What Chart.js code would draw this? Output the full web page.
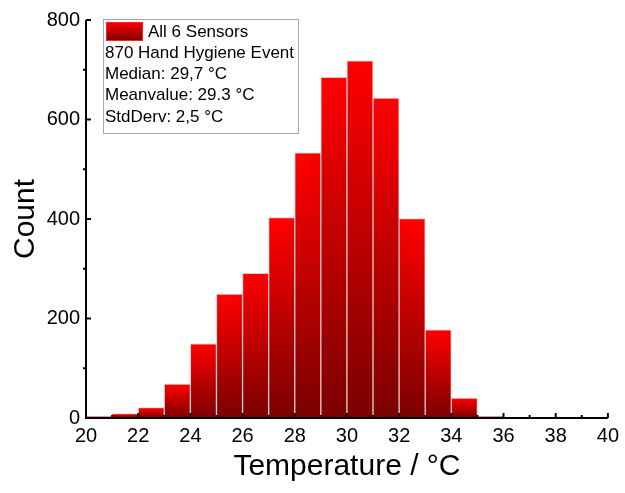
<!DOCTYPE html>
<html>
<head>
<meta charset="utf-8">
<script src="https://cdn.jsdelivr.net/npm/chart.js@4.4.0/dist/chart.umd.min.js"></script>
<style>
  html, body { margin: 0; padding: 0; background: #fff; }
  #wrap { width: 625px; height: 493px; }
</style>
</head>
<body>
<div id="wrap"><canvas id="hist" width="625" height="493"></canvas></div>
<script>
// histogram data, bins of 1 °C
const binStarts = [20, 21, 22, 23, 24, 25, 26, 27, 28, 29, 30, 31, 32, 33, 34, 35, 36, 37, 38, 39];
const counts = [4, 9, 21, 68, 149, 249, 291, 403, 533, 685, 718, 643, 401, 177, 40, 4, 0, 0, 0, 0];
const xTicks = [20, 22, 24, 26, 28, 30, 32, 34, 36, 38, 40];
const yTicks = [0, 200, 400, 600, 800];
const legendLabel = 'All 6 Sensors';
const infoLines = ['870 Hand Hygiene Event', 'Median: 29,7 °C', 'Meanvalue: 29.3 °C', 'StdDerv: 2,5 °C'];

const FONT = "Arial, 'Liberation Sans', sans-serif";

function barGradient(ctx, top, bottom) {
    const g = ctx.createLinearGradient(0, top, 0, bottom);
    g.addColorStop(0, '#ff0000');
    g.addColorStop(1, '#7a0000');
    return g;
}

// inward ticks + black axis lines (origin style)
const axesPlugin = {
    id: 'originAxes',
    afterDatasetsDraw(chart) {
        const { ctx, chartArea: a, scales: { x, y } } = chart;
        ctx.save();
        ctx.strokeStyle = '#000';
        ctx.lineWidth = 2;
        ctx.beginPath();
        ctx.moveTo(a.left, a.top);
        ctx.lineTo(a.left, a.bottom);
        ctx.lineTo(a.right, a.bottom);
        ctx.stroke();

        for (let v = 20; v <= 40; v++) {
            const px = x.getPixelForValue(v);
            const len = v % 2 === 0 ? 5 : 3;
            ctx.beginPath();
            ctx.moveTo(px, a.bottom);
            ctx.lineTo(px, a.bottom - len);
            ctx.stroke();
        }
        for (let v = 0; v <= 800; v += 100) {
            const py = y.getPixelForValue(v);
            ctx.beginPath();
            if (v % 200 === 0) {
                ctx.moveTo(a.left, py);
                ctx.lineTo(a.left + 5, py);
            } else {
                ctx.moveTo(a.left, py);
                ctx.lineTo(a.left - 3, py);
            }
            ctx.stroke();
        }
        ctx.restore();
    }
};

// legend box with extra text lines
const infoBoxPlugin = {
    id: 'infoBox',
    afterDraw(chart) {
        const { ctx, chartArea: a } = chart;
        const bx = a.left + 17, by = a.top - 1, bw = 195, bh = 114;
        ctx.save();
        ctx.fillStyle = '#fff';
        ctx.fillRect(bx, by, bw, bh);
        ctx.strokeStyle = '#a8a8a8';
        ctx.lineWidth = 1;
        ctx.strokeRect(bx + 0.5, by + 0.5, bw, bh);

        // swatch
        const sx = bx + 3, sy = by + 3, sw = 37, sh = 19;
        ctx.fillStyle = barGradient(ctx, sy, sy + sh);
        ctx.fillRect(sx, sy, sw, sh);
        ctx.strokeStyle = '#ff2020';
        ctx.strokeRect(sx + 0.5, sy + 0.5, sw - 1, sh - 1);

        ctx.fillStyle = '#000';
        ctx.font = '17px ' + FONT;
        ctx.textBaseline = 'middle';
        ctx.textAlign = 'left';
        ctx.fillText(legendLabel, sx + sw + 5, sy + 10);
        infoLines.forEach((t, i) => {
            ctx.fillText(t, bx + 2, by + 34 + i * 21.3);
        });
        ctx.restore();
    }
};

const data = binStarts.map((b, i) => ({ x: b + 0.5, y: counts[i] }));

new Chart(document.getElementById('hist'), {
    type: 'bar',
    data: {
        datasets: [{
            label: legendLabel,
            data: data,
            backgroundColor: (c) => {
                const chart = c.chart;
                if (!chart.chartArea || !c.raw) return '#ff0000';
                const ys = chart.scales.y;
                const top = ys.getPixelForValue(c.raw.y);
                const bottom = ys.getPixelForValue(0);
                if (bottom - top < 1) return '#c04040';
                return barGradient(chart.ctx, top, bottom);
            },
            borderColor: '#ecc4c4',
            borderWidth: 1,
            barPercentage: 1,
            categoryPercentage: 1
        }]
    },
    options: {
        responsive: false,
        animation: false,
        layout: { padding: { top: 20, right: 13, left: 0, bottom: 0 } },
        plugins: {
            legend: { display: false },
            tooltip: { enabled: false }
        },
        scales: {
            x: {
                type: 'linear',
                min: 20,
                max: 40,
                offset: false,
                grid: { display: false, drawTicks: false },
                border: { display: false },
                afterBuildTicks: (s) => { s.ticks = xTicks.map(v => ({ value: v })); },
                ticks: {
                    color: '#000',
                    font: { family: FONT, size: 20 },
                    padding: 6,
                    maxRotation: 0,
                    autoSkip: false
                },
                title: {
                    display: true,
                    text: 'Temperature / °C',
                    color: '#000',
                    font: { family: FONT, size: 30 },
                    padding: { top: 0, bottom: 8 }
                },
                afterFit: (s) => { s.height = 75; }
            },
            y: {
                min: 0,
                max: 800,
                grid: { display: false, drawTicks: false },
                border: { display: false },
                afterBuildTicks: (s) => { s.ticks = yTicks.map(v => ({ value: v })); },
                ticks: {
                    color: '#000',
                    font: { family: FONT, size: 20 },
                    padding: 6
                },
                title: {
                    display: true,
                    text: 'Count',
                    color: '#000',
                    font: { family: FONT, size: 30 },
                    padding: { top: 8, bottom: 0 }
                },
                afterFit: (s) => { s.width = 86; }
            }
        }
    },
    plugins: [axesPlugin, infoBoxPlugin]
});
</script>
</body>
</html>
